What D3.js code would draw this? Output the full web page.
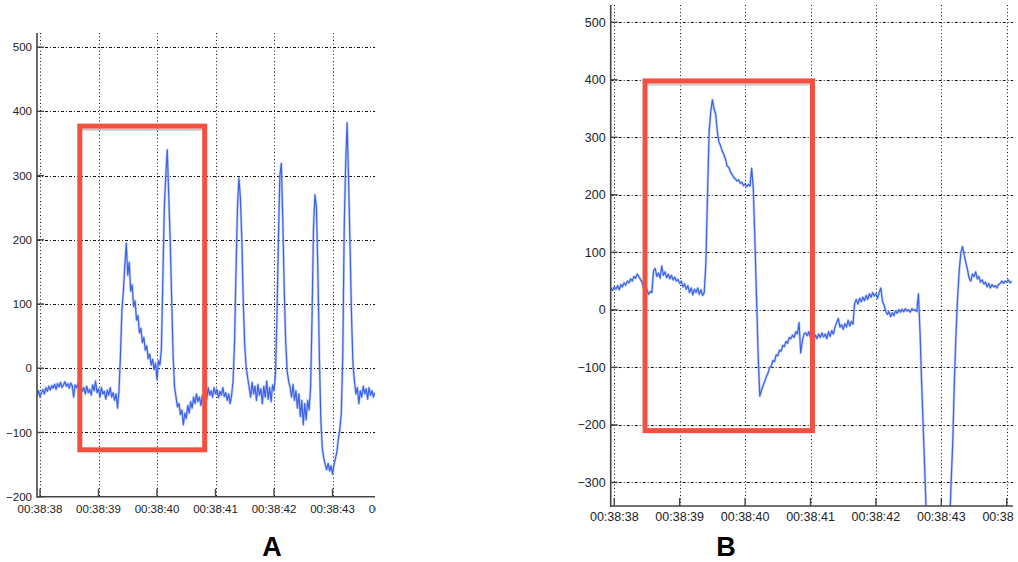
<!DOCTYPE html>
<html>
<head>
<meta charset="utf-8">
<script src="https://cdn.jsdelivr.net/npm/d3@7/dist/d3.min.js"></script>
<style>
  html, body { margin: 0; padding: 0; background: #fff; }
  svg { display: block; }
  .tick-label { font-family: "Liberation Sans", Arial, Helvetica, sans-serif; fill: #222; }
  .panel-title { font-family: "Liberation Sans", Arial, sans-serif; font-weight: bold; fill: #000; }
</style>
</head>
<body>
<svg id="chart" width="1018" height="562"></svg>
<script>
// Sampled trace: one value every sampleStep seconds, starting at sampleStart
// (seconds after 00:38:38).
const sampleStart = -0.05;
const sampleStep = 0.025;

// Panel A trace values
const traceA = [
  -42,-35,-45,-38,-33,-40,-30,-36,-28,-34,
  -27,-31,-25,-33,-24,-29,-22,-30,-26,-21,
  -28,-24,-31,-23,-27,-45,-26,-30,-24,-33,
  -28,-36,-30,-40,-28,-38,-33,-42,-26,-35,
  -20,-38,-32,-45,-30,-40,-36,-48,-34,-42,
  -30,-45,-38,-50,-40,-62,-35,20,90,120,
  160,195,145,165,120,130,96,105,75,82,
  55,62,40,48,28,35,15,22,5,14,
  -2,8,-18,12,5,30,140,250,300,340,
  270,200,110,20,-30,-45,-60,-55,-72,-65,
  -88,-70,-78,-58,-70,-52,-62,-45,-55,-40,
  -52,-45,-58,-42,-50,-38,-48,-30,-42,-35,
  -45,-30,-40,-33,-46,-36,-42,-30,-44,-38,
  -50,-40,-55,-42,-20,40,150,250,296,265,
  200,100,35,0,-15,-30,-45,-22,-40,-28,
  -50,-25,-42,-32,-55,-28,-45,-20,-48,-30,
  -52,-26,-35,-10,80,200,300,319,230,120,
  40,-5,-20,-30,-45,-25,-50,-35,-62,-40,
  -75,-50,-88,-55,-80,-50,-65,-30,80,220,
  270,250,150,20,-80,-125,-140,-150,-158,-148,
  -160,-152,-165,-150,-140,-130,-110,-95,-70,20,
  220,320,382,290,190,80,5,-20,-40,-30,
  -55,-35,-45,-28,-40,-32,-48,-30,-42,-35,
  -45,-38
];

// Panel B trace values
const traceB = [
  38,34,40,36,42,35,44,40,47,43,
  50,47,54,50,58,55,62,58,53,48,
  36,28,35,27,32,30,68,72,58,64,
  55,76,60,66,56,62,54,60,52,57,
  50,53,46,50,40,45,36,42,30,38,
  26,36,30,38,27,35,25,30,80,200,
  310,345,365,350,340,310,292,285,276,270,
  262,250,248,240,236,230,228,224,226,220,
  222,216,219,214,218,215,246,212,120,20,
  -80,-150,-140,-132,-124,-116,-110,-100,-98,-88,
  -90,-78,-80,-70,-72,-62,-64,-55,-58,-48,
  -50,-44,-48,-38,-42,-22,-75,-55,-42,-40,
  -45,-38,-48,-40,-52,-44,-50,-42,-48,-40,
  -47,-42,-50,-38,-46,-36,-42,-30,-22,-15,
  -30,-26,-34,-24,-30,-18,-28,-20,-25,12,
  18,10,20,14,22,16,25,18,28,22,
  30,24,28,20,30,38,15,8,-2,-8,
  -3,-12,-5,-10,-2,-6,0,-4,1,-3,
  2,-2,0,-4,2,-1,0,-3,28,-40,
  -130,-210,-290,-370,-450,-530,-600,-660,-700,-720,
  -730,-720,-700,-660,-590,-520,-450,-380,-300,-230,
  -122,-40,23,70,100,110,95,82,70,55,
  50,62,58,66,54,58,48,52,45,48,
  40,46,38,44,40,42,38,44,46,50,
  46,50,48,52,47,50
];

// Time ticks (seconds after 00:38:38) and their labels
const timeTicks = [0, 1, 2, 3, 4, 5, 6];
const timeLabels = ["00:38:38", "00:38:39", "00:38:40", "00:38:41", "00:38:42", "00:38:43", "00:38:44"];

// Value ticks for each panel
const valueTicksA = [-200, -100, 0, 100, 200, 300, 400, 500];
const valueTicksB = [-300, -200, -100, 0, 100, 200, 300, 400, 500];

// Highlighted windows: [tStart, tEnd, vTop, vBottom]
const boxA = [0.68, 2.815, 377, -127];
const boxB = [0.47, 3.03, 398, -210];

const panelNames = ["A", "B"];

const svg = d3.select("#chart");
const defs = svg.append("defs");
const fmtValue = v => (v < 0 ? "\u2212" + Math.abs(v) : String(v));

function drawPanel(cfg) {
  const { id, xDomain, xRange, yDomain, yRange, values, yTicks, box, fontSize, labelGap, xLabelY } = cfg;
  const x = d3.scaleLinear().domain(xDomain).range(xRange);
  const y = d3.scaleLinear().domain(yDomain).range(yRange);
  const g = svg.append("g");

  const [x0, x1] = xRange;
  const [yb, yt] = yRange;

  // clip for everything inside the plot area
  defs.append("clipPath").attr("id", "clip" + id)
    .append("rect").attr("x", x0).attr("y", yt).attr("width", x1 - x0).attr("height", yb - yt);
  // clip for the whole panel (labels are cut at the panel's right edge)
  defs.append("clipPath").attr("id", "pclip" + id)
    .append("rect").attr("x", 0).attr("y", 0).attr("width", x1 + 1).attr("height", 562);

  const plot = g.append("g").attr("clip-path", `url(#clip${id})`);

  // grid: horizontal dash-dot, vertical dotted
  plot.selectAll("line.hg").data(yTicks).join("line")
    .attr("x1", x0).attr("x2", x1)
    .attr("y1", d => Math.round(y(d)) + 0.5).attr("y2", d => Math.round(y(d)) + 0.5)
    .attr("stroke", "#111").attr("stroke-width", 1).attr("stroke-dasharray", "3,2,1,2");
  plot.selectAll("line.vg").data(timeTicks).join("line")
    .attr("x1", d => Math.round(x(d)) + 0.5).attr("x2", d => Math.round(x(d)) + 0.5)
    .attr("y1", yt).attr("y2", yb)
    .attr("stroke", "#111").attr("stroke-width", 1).attr("stroke-dasharray", "1,2.5");

  // trace
  const pts = values.map((v, i) => ({ t: sampleStart + i * sampleStep, v }));
  const line = d3.line().x(d => x(d.t)).y(d => y(d.v));
  plot.append("path").datum(pts).attr("d", line)
    .attr("fill", "none").attr("stroke", "#9fb2f4").attr("stroke-width", 2.6)
    .attr("stroke-opacity", 0.6).attr("stroke-linejoin", "round");
  plot.append("path").datum(pts).attr("d", line)
    .attr("fill", "none").attr("stroke", "#3b62e8").attr("stroke-width", 1.2)
    .attr("stroke-linejoin", "round");

  // axes
  const axes = g.append("g").attr("clip-path", `url(#pclip${id})`);
  axes.append("line").attr("x1", x0).attr("x2", x0).attr("y1", yt).attr("y2", yb + 1)
    .attr("stroke", "#444").attr("stroke-width", 1.6);
  axes.append("line").attr("x1", x0).attr("x2", x1).attr("y1", yb).attr("y2", yb)
    .attr("stroke", "#444").attr("stroke-width", 1.6);
  axes.selectAll("line.yt").data(yTicks).join("line")
    .attr("x1", x0).attr("x2", x0 + 7)
    .attr("y1", d => y(d)).attr("y2", d => y(d))
    .attr("stroke", "#444").attr("stroke-width", 1.4);
  axes.selectAll("line.xt").data(timeTicks).join("line")
    .attr("x1", d => x(d)).attr("x2", d => x(d))
    .attr("y1", yb).attr("y2", yb - 8)
    .attr("stroke", "#444").attr("stroke-width", 1.4);

  axes.selectAll("text.yl").data(yTicks).join("text")
    .attr("class", "tick-label")
    .attr("x", x0 - labelGap).attr("y", d => y(d))
    .attr("dy", "0.35em").attr("text-anchor", "end")
    .style("font-size", fontSize + "px")
    .text(fmtValue);
  axes.selectAll("text.xl").data(timeTicks).join("text")
    .attr("class", "tick-label")
    .attr("x", d => x(d)).attr("y", xLabelY)
    .attr("text-anchor", "middle")
    .style("font-size", fontSize + "px")
    .text((d, i) => timeLabels[i]);

  // highlighted window
  const [b0, b1, bTop, bBot] = box;
  g.append("line")
    .attr("x1", x(b0) + 2).attr("x2", x(b1) - 2)
    .attr("y1", y(bTop) + 3.5).attr("y2", y(bTop) + 3.5)
    .attr("stroke", "#c8c8c8").attr("stroke-width", 2);
  g.append("rect")
    .attr("x", x(b0)).attr("y", y(bTop))
    .attr("width", x(b1) - x(b0)).attr("height", y(bBot) - y(bTop))
    .attr("fill", "none").attr("stroke", "#f4503f").attr("stroke-width", 5);

  return { x, y };
}

drawPanel({
  id: "A",
  xDomain: [-0.0513, 5.726], xRange: [37, 375],
  yDomain: [-200, 522], yRange: [496.7, 33],
  values: traceA, yTicks: valueTicksA, box: boxA,
  fontSize: 11.5, labelGap: 5, xLabelY: 513
});

drawPanel({
  id: "B",
  xDomain: [-0.055, 6.096], xRange: [610.7, 1013],
  yDomain: [-341, 530], yRange: [506, 5],
  values: traceB, yTicks: valueTicksB, box: boxB,
  fontSize: 12.5, labelGap: 5, xLabelY: 521
});

// panel letters
svg.selectAll("text.panel-title").data(panelNames).join("text")
  .attr("class", "panel-title")
  .attr("x", (d, i) => [272, 726][i]).attr("y", 556)
  .attr("text-anchor", "middle")
  .style("font-size", "27px")
  .text(d => d);
</script>
</body>
</html>
